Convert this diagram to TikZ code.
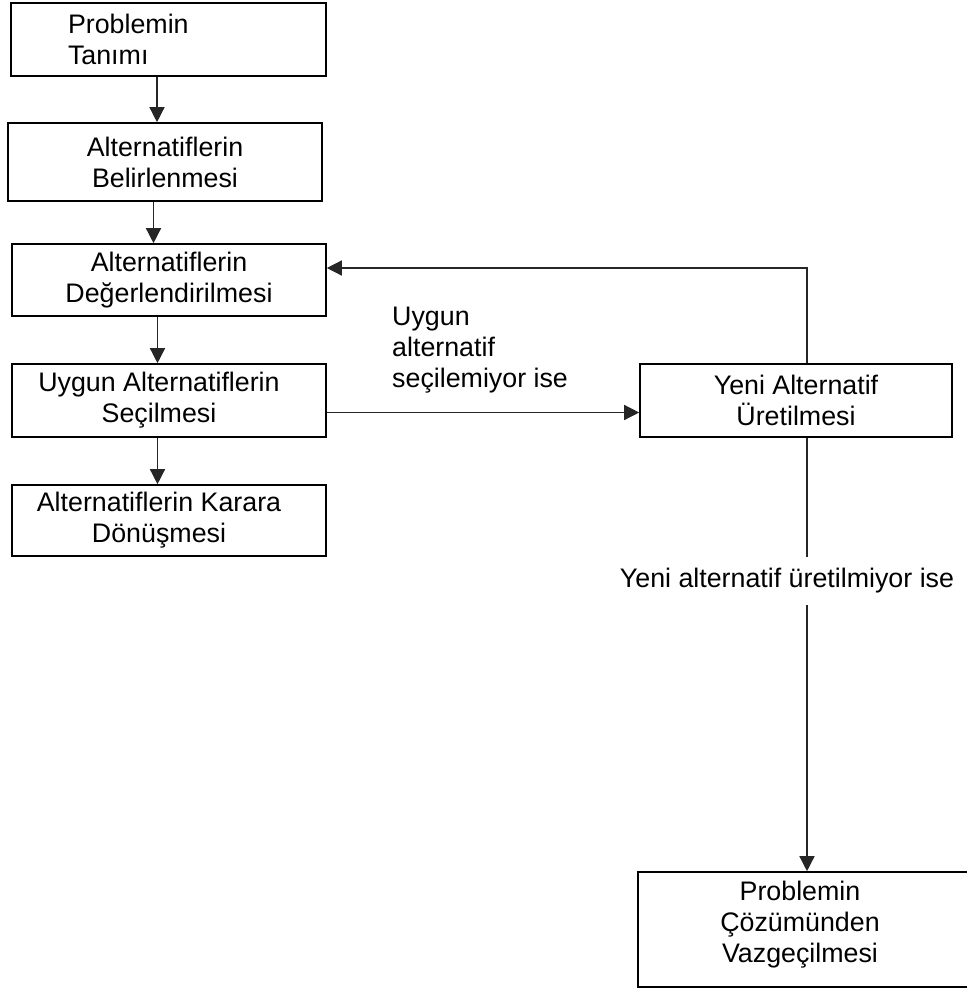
\documentclass[tikz,border=0pt]{standalone}
\usepackage{fontspec}
\setmainfont{Liberation Sans}
\usetikzlibrary{arrows.meta}

% pulls one centred line to the left by half of #1
\newcommand\pullleft[1]{\hspace*{-#1}}

\tikzset{
  stepbox/.style={draw=black, line width=1.6pt, rectangle, align=center,
    inner sep=0pt, font=\fontsize{26.8}{31}\selectfont},
  flow/.style={draw=black!85, line width=1.4pt,
    -{Triangle[length=15pt,width=15pt]}},
  plain/.style={draw=black!85, line width=1.4pt},
  note/.style={font=\fontsize{26.8}{31}\selectfont, inner sep=0pt}
}

\begin{document}
\begin{tikzpicture}[x=1pt,y=-1pt]
\useasboundingbox (0,0) rectangle (967,989);

% left column of steps
\node[stepbox, minimum width=315pt, minimum height=73pt, align=left,
      text width=201pt, inner xsep=57pt] (p1) at (168.5,39.5)
      {Problemin\\Tanımı};
\node[stepbox, minimum width=314pt, minimum height=78pt] (p2) at (165,162)
      {Alternatiflerin\\Belirlenmesi};
\node[stepbox, minimum width=314pt, minimum height=72pt] (p3) at (169,280)
      {Alternatiflerin\\Değerlendirilmesi};
\node[stepbox, minimum width=314pt, minimum height=73pt] (p4) at (169,400.5)
      {\pullleft{20pt}Uygun Alternatiflerin\\\pullleft{20pt}Seçilmesi};
\node[stepbox, minimum width=314pt, minimum height=71pt] (p5) at (169,520.5)
      {\pullleft{20pt}Alternatiflerin Karara\\\pullleft{20pt}Dönüşmesi};

% right column
\node[stepbox, minimum width=312pt, minimum height=73pt] (pr) at (796,400.5)
      {Yeni Alternatif\\Üretilmesi};
\node[stepbox, minimum width=400pt, minimum height=115pt, text depth=16pt]
      (pb) at (838,929.5)
      {\pullleft{76pt}Problemin\\\pullleft{76pt}Çözümünden\\\pullleft{76pt}Vazgeçilmesi};

% downward arrows between the left steps
\foreach \a/\b in {p1/p2, p2/p3, p3/p4, p4/p5}
  \draw[flow] ([xshift=-11.5pt]\a.south) -- ([xshift=-11.5pt]\a.south |- \b.north);

% branch to generating a new alternative
\draw[flow] ([yshift=-12pt]p4.east) -- ([yshift=-12pt]p4.east -| pr.west);
\node[note, align=left, anchor=north west] (lblA) at (392,307)
      {Uygun\\alternatif\\seçilemiyor ise};

% feedback loop back to the evaluation step
\coordinate (fbStart) at ([xshift=11pt]pr.north);
\coordinate (fbEnd) at ([yshift=12pt]p3.east);
\draw[flow] (fbStart) -- (fbStart |- fbEnd) -- (fbEnd);

% giving up on the problem
\coordinate (dnStart) at ([xshift=11pt]pr.south);
\node[note, inner ysep=11.5pt] (lblB) at (787,581)
      {Yeni alternatif üretilmiyor ise};
\draw[plain] (dnStart) -- (dnStart |- lblB.north);
\draw[flow] (dnStart |- lblB.south) -- (dnStart |- pb.north);
\end{tikzpicture}
\end{document}
